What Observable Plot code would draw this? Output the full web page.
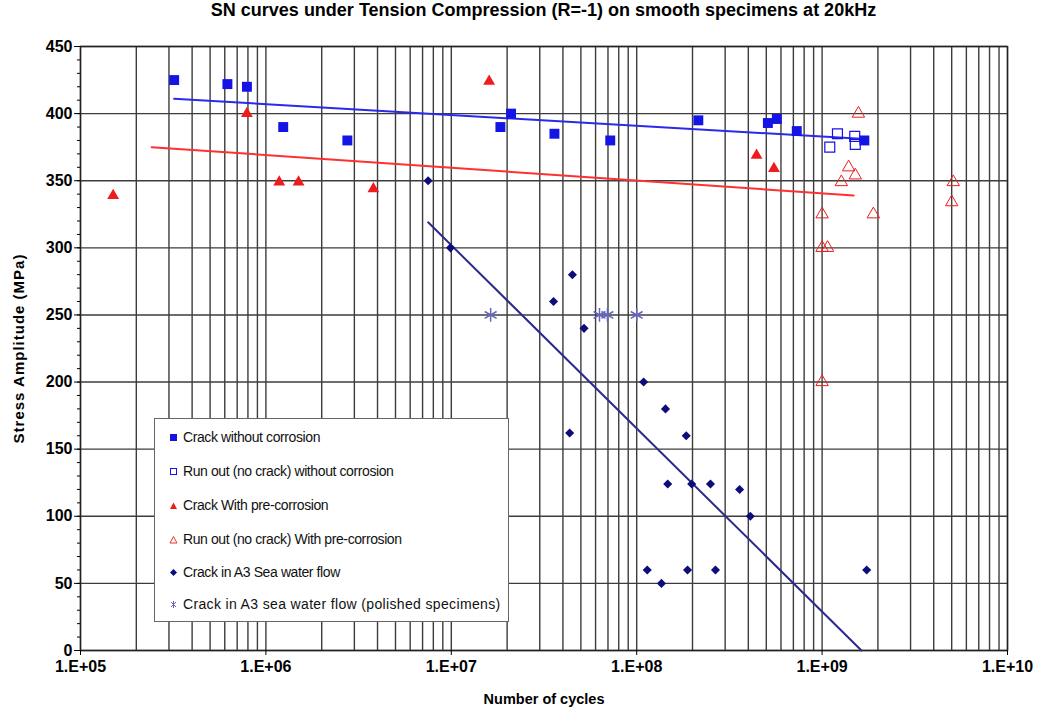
<!DOCTYPE html>
<html>
<head>
<meta charset="utf-8">
<script src="https://cdn.jsdelivr.net/npm/d3@7"></script>
<script src="https://cdn.jsdelivr.net/npm/@observablehq/plot@0.6"></script>
<style>
  html, body { margin: 0; padding: 0; background: #fff; }
  #wrap { position: relative; width: 1039px; height: 711px; overflow: hidden; }
  #title { position: absolute; left: 80px; width: 927px; top: 0; height: 34px; line-height: 34px;
           text-align: center; font: bold 18px 'Liberation Sans', Arial, sans-serif; color: #000; }
  #chart { position: absolute; left: 0; top: 34px; }
  #chart svg g[aria-label="x-axis label"] text { font-size: 14.5px !important; font-weight: bold !important; }
  #chart svg g[aria-label="y-axis label"] text { font-size: 15px !important; font-weight: bold !important; letter-spacing: 1px; }
  #legend { position: absolute; left: 154px; top: 418px; width: 353px; height: 202px;
            border: 1px solid #666; background: #fff; font: 14px 'Liberation Sans', Arial, sans-serif; color: #111; }
  .item { position: absolute; left: 14px; height: 16px; line-height: 16px; white-space: nowrap; }
  .item svg { position: absolute; left: 0; top: 4px; }
  .item span { position: absolute; left: 14px; top: 0; letter-spacing: -0.4px; }
</style>
</head>
<body>
<div id="wrap">
  <div id="title">SN curves under Tension Compression (R=-1) on smooth specimens at 20kHz</div>
  <div id="chart"></div>
  <div id="legend"></div>
</div>
<script>
// ---- Data: [number of cycles, stress amplitude MPa] ----
const crackNoCorrosion = [
  [3.2e5, 425], [6.2e5, 422], [7.9e5, 420], [1.24e6, 390], [2.75e6, 380],
  [1.84e7, 390], [2.1e7, 400], [3.6e7, 385], [7.2e7, 380], [2.15e8, 395],
  [5.1e8, 393], [5.7e8, 396], [7.3e8, 387], [1.69e9, 380]
];
const runoutNoCorrosion = [
  [1.21e9, 385], [1.1e9, 375], [1.5e9, 383], [1.51e9, 377]
];
const crackPreCorrosion = [
  [1.5e5, 339], [7.9e5, 400], [1.18e6, 349], [1.5e6, 349], [3.8e6, 344],
  [1.6e7, 424], [4.43e8, 369], [5.5e8, 359]
];
const runoutPreCorrosion = [
  [1.57e9, 400], [1.39e9, 360], [1.51e9, 354], [1.27e9, 349], [1.0e9, 325],
  [1.89e9, 325], [1.0e9, 300], [1.07e9, 300], [5.1e9, 349], [5.0e9, 334],
  [1.0e9, 200]
];
const crackSeaWater = [
  [7.5e6, 350], [9.9e6, 300], [4.5e7, 280], [3.56e7, 260], [5.2e7, 240],
  [1.09e8, 200], [1.43e8, 180], [1.85e8, 160], [4.35e7, 162], [1.47e8, 124],
  [1.98e8, 124], [2.5e8, 124], [3.59e8, 120], [4.1e8, 100], [1.14e8, 60],
  [1.36e8, 50], [1.88e8, 60], [2.66e8, 60], [1.74e9, 60]
];
const crackSeaWaterPolished = [
  [1.63e7, 250], [6.3e7, 250], [6.95e7, 250], [1.0e8, 250]
];
// Trend lines (end points)
const trendNoCorrosion = [[3.2e5, 411], [1.7e9, 381]];
const trendPreCorrosion = [[2.42e5, 375], [1.48e9, 339]];
const trendSeaWater = [[7.5e6, 319], [1.63e9, 0]];

// ---- Axes ----
const xTicks = [1e5, 1e6, 1e7, 1e8, 1e9, 1e10];
const xTickLabels = ["1.E+05", "1.E+06", "1.E+07", "1.E+08", "1.E+09", "1.E+10"];
const yTicks = [0, 50, 100, 150, 200, 250, 300, 350, 400, 450];
const legendLabels = [
  "Crack without corrosion",
  "Run out (no crack) without corrosion",
  "Crack With pre-corrosion",
  "Run out (no crack) With pre-corrosion",
  "Crack in A3 Sea water flow",
  "Crack in A3 sea water flow (polished specimens)"
];

const colors = {
  blue: "#1414e6", red: "#ee1c1c", navy: "#0c0c7a", slate: "#6464c0",
  blueLine: "#2a2ae8", redLine: "#ff3030", navyLine: "#2b2b8c"
};

// minor grid positions (2..9 x each decade)
const minorX = [];
for (let e = 5; e < 10; e++) for (let m = 2; m <= 9; m++) minorX.push(m * Math.pow(10, e));
const minorY = [];
for (let v = 0; v <= 450; v += 10) minorY.push(v);

const N = d => d[0], S = d => d[1];
const gridColor = "#3c3c3c";

const chart = Plot.plot({
  width: 1039,
  height: 677,
  marginLeft: 80, marginRight: 32, marginTop: 12, marginBottom: 61,
  style: { fontFamily: "'Liberation Sans', Arial, sans-serif", fontSize: "13px", color: "#000", background: "#fff", overflow: "visible" },
  x: { type: "log", domain: [1e5, 1e10] },
  y: { domain: [0, 450] },
  marks: [
    Plot.gridX(minorX, { stroke: gridColor, strokeOpacity: 1, strokeWidth: 1.4 }),
    Plot.gridX(xTicks, { stroke: gridColor, strokeOpacity: 1, strokeWidth: 1.4 }),
    Plot.gridY(yTicks, { stroke: gridColor, strokeOpacity: 1, strokeWidth: 1.4 }),
    Plot.frame({ stroke: "#222", strokeWidth: 1.4 }),
    Plot.axisY(minorY, { tickSize: 3, tickFormat: () => "", label: null }),
    Plot.axisY(yTicks, { tickSize: 6, tickFormat: () => "",
      label: "Stress Amplitude (MPa)", labelAnchor: "center", labelOffset: 67, labelArrow: "none" }),
    Plot.axisX(xTicks, { tickSize: 5, tickFormat: () => "",
      label: "Number of cycles", labelAnchor: "center", labelOffset: 53, labelArrow: "none" }),
    // tick labels
    Plot.text(yTicks, { y: d => d, text: d => String(d), frameAnchor: "left", dx: -8, textAnchor: "end",
      fontSize: 16, fontWeight: "bold", fill: "#000" }),
    Plot.text(xTicks, { x: d => d, text: d => xTickLabels[xTicks.indexOf(d)], frameAnchor: "bottom", lineAnchor: "top",
      dy: 10, fontSize: 16, fontWeight: "bold", fill: "#000" }),
    Plot.line(trendNoCorrosion, { x: N, y: S, stroke: colors.blueLine, strokeWidth: 2 }),
    Plot.line(trendPreCorrosion, { x: N, y: S, stroke: colors.redLine, strokeWidth: 2 }),
    Plot.line(trendSeaWater, { x: N, y: S, stroke: colors.navyLine, strokeWidth: 2 }),
    Plot.dot(runoutPreCorrosion, { x: N, y: S, symbol: "triangle", r: 4.6, fill: "none", stroke: colors.red, strokeWidth: 1 }),
    Plot.dot(crackPreCorrosion, { x: N, y: S, symbol: "triangle", r: 4.4, fill: colors.red, stroke: "none" }),
    Plot.dot(runoutNoCorrosion, { x: N, y: S, symbol: "square", r: 5.6, fill: "none", stroke: colors.blue, strokeWidth: 1.2 }),
    Plot.dot(crackNoCorrosion, { x: N, y: S, symbol: "square", r: 5.6, fill: colors.blue, stroke: "none" }),
    Plot.dot(crackSeaWater, { x: N, y: S, symbol: "diamond2", r: 4.1, fill: colors.navy, stroke: "none" }),
    Plot.dot(crackSeaWaterPolished, { x: N, y: S, symbol: "asterisk", r: 6.5, fill: "none", stroke: colors.slate, strokeWidth: 1.5 })
  ]
});
document.getElementById("chart").appendChild(chart);

// ---- Legend ----
const legendSymbols = [
  `<rect x="1" y="1" width="7" height="7" fill="${colors.blue}"/>`,
  `<rect x="1.5" y="1.5" width="6" height="6" fill="none" stroke="${colors.blue}" stroke-width="1"/>`,
  `<path d="M4.5,1.5 L8,8 L1,8 Z" fill="${colors.red}"/>`,
  `<path d="M4.5,1.5 L8,8 L1,8 Z" fill="none" stroke="${colors.red}" stroke-width="0.9"/>`,
  `<path d="M4.5,1 L8,4.5 L4.5,8 L1,4.5 Z" fill="${colors.navy}"/>`,
  `<path d="M2,2 L7,7 M7,2 L2,7 M4.5,1 L4.5,8" stroke="${colors.slate}" stroke-width="1"/>`
];
const itemTops = [10, 44, 78, 112, 145, 177];
const legend = document.getElementById("legend");
legendLabels.forEach((lab, i) => {
  const div = document.createElement("div");
  div.className = "item";
  div.style.top = itemTops[i] + "px";
  div.innerHTML = `<svg width="9" height="9">${legendSymbols[i]}</svg><span style="${i === 5 ? 'letter-spacing:0.35px' : ''}">${lab}</span>`;
  legend.appendChild(div);
});
</script>
</body>
</html>
